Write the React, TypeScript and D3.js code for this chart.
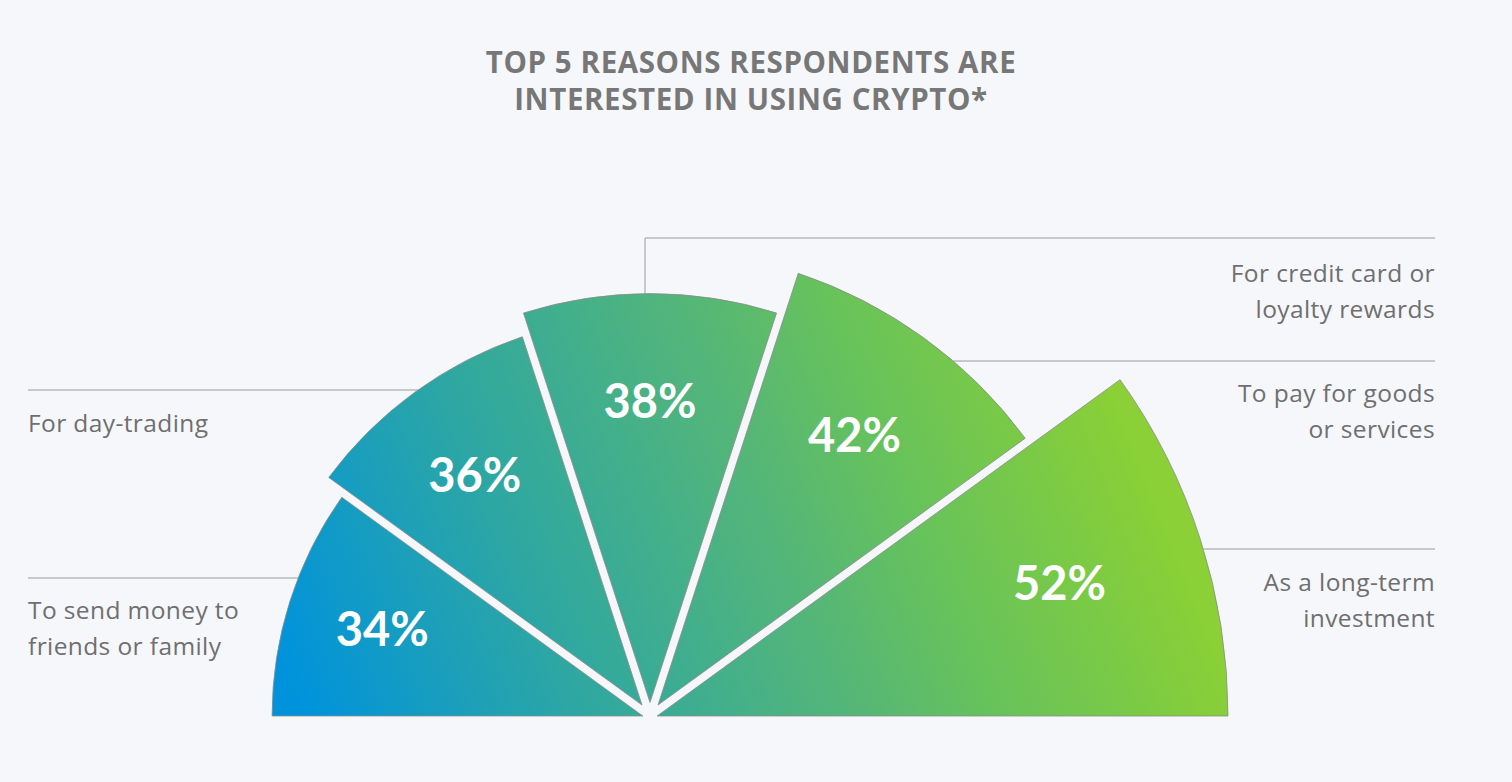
import React from "react";
import * as d3 from "d3";

const titleLines = ["TOP 5 REASONS RESPONDENTS ARE", "INTERESTED IN USING CRYPTO*"];
const categories = [
  "To send money to friends or family",
  "For day-trading",
  "For credit card or loyalty rewards",
  "To pay for goods or services",
  "As a long-term investment",
];
const values = [34, 36, 38, 42, 52];
const labelLines = [
  ["To send money to", "friends or family"],
  ["For day-trading"],
  ["For credit card or", "loyalty rewards"],
  ["To pay for goods", "or services"],
  ["As a long-term", "investment"],
];

const W = 1512;
const H = 782;
const BG = "#f6f7fb";
const cx = 650;
const cy = 716;
const HALF_GAP = 4.2;

function wedgePath(phi0: number, phi1: number, R: number, d0: number, d1: number) {
  const u0 = [Math.cos(phi0), Math.sin(phi0)];
  const u1 = [Math.cos(phi1), Math.sin(phi1)];
  const n0 = [-Math.sin(phi0), Math.cos(phi0)];
  const n1 = [Math.sin(phi1), -Math.cos(phi1)];
  const det = n0[0] * n1[1] - n0[1] * n1[0];
  const tx = (d0 * n1[1] - n0[1] * d1) / det;
  const ty = (n0[0] * d1 - d0 * n1[0]) / det;
  const t0 = Math.sqrt(R * R - d0 * d0);
  const t1 = Math.sqrt(R * R - d1 * d1);
  const p0 = [d0 * n0[0] + t0 * u0[0], d0 * n0[1] + t0 * u0[1]];
  const p1 = [d1 * n1[0] + t1 * u1[0], d1 * n1[1] + t1 * u1[1]];
  const a0 = Math.atan2(p0[1], p0[0]);
  const a1 = Math.atan2(p1[1], p1[0]);
  const p = d3.path();
  p.moveTo(tx, ty);
  p.lineTo(p0[0], p0[1]);
  p.arc(0, 0, R, a0, a1, false);
  p.closePath();
  return p.toString();
}

export default function App() {
  const r = d3.scaleLinear().domain([0, 52]).range([0, 578]);
  const n = values.length;
  // screen angle: -PI = left, -PI/2 = up, 0 = right
  const angle = d3.scaleLinear().domain([0, n]).range([-Math.PI, 0]);

  const wedges = values.map((v, i) => {
    const p0 = angle(i);
    const p1 = angle(i + 1);
    const rr = r(v);
    const d = wedgePath(p0, p1, rr, i === 0 ? 0 : HALF_GAP, i === n - 1 ? 0 : HALF_GAP);
    const mid = (p0 + p1) / 2;
    const lr = rr * 0.745;
    return { v, rr, d, lx: Math.cos(mid) * lr, ly: Math.sin(mid) * lr };
  });

  const arcX = (i: number, y: number, side: number) => {
    const rr = r(values[i]);
    const dy = cy - y;
    return cx + side * Math.sqrt(Math.max(0, rr * rr - dy * dy));
  };

  const leftLabelX = 28;
  const rightLabelX = 1435;
  const labelFont = "'Open Sans', Lato, sans-serif";
  const lineColor = "#9a9a9a";
  const textColor = "#6f6f6f";

  const leftLayouts = [
    { i: 0, lineY: 578, base: 619 },
    { i: 1, lineY: 390, base: 432 },
  ];
  const rightLayouts = [
    { i: 3, lineY: 361, base: 402 },
    { i: 4, lineY: 549, base: 591 },
  ];
  const lh = 35.5;

  return (
    <svg width={W} height={H} style={{ position: "absolute", left: 0, top: 0, display: "block" }}>
      <defs>
        <linearGradient id="grad" gradientUnits="userSpaceOnUse" x1={-360} y1={-37} x2={447} y2={-363}>
          <stop offset="0" stopColor="#0093dc" />
          <stop offset="0.31" stopColor="#30a8a0" />
          <stop offset="0.59" stopColor="#55b677" />
          <stop offset="0.73" stopColor="#66c25c" />
          <stop offset="1" stopColor="#8ad036" />
        </linearGradient>
      </defs>
      <rect x={0} y={0} width={W} height={H} fill={BG} />

      <g
        fontFamily="'Open Sans', Roboto, sans-serif"
        fontWeight={700}
        fill="#777777"
        fontSize={29.5}
        letterSpacing={0.6}
        textAnchor="middle"
      >
        {titleLines.map((t, k) => (
          <text key={k} x={751} y={73 + k * 37}>
            {t}
          </text>
        ))}
      </g>

      <g stroke={lineColor} strokeWidth={1} fill="none">
        {leftLayouts.map((l) => (
          <line key={l.i} x1={leftLabelX} x2={arcX(l.i, l.lineY, -1)} y1={l.lineY} y2={l.lineY} />
        ))}
        {rightLayouts.map((l) => (
          <line key={l.i} x1={arcX(l.i, l.lineY, 1)} x2={rightLabelX} y1={l.lineY} y2={l.lineY} />
        ))}
        <polyline points={`${645},${cy - r(values[2]) + 1} ${645},${238} ${rightLabelX},${238}`} />
      </g>

      <g transform={`translate(${cx},${cy})`}>
        {wedges.map((w, i) => (
          <path key={i} d={w.d} fill="url(#grad)" stroke="#8c8c8c" strokeWidth={0.8} />
        ))}
        {wedges.map((w, i) => (
          <text
            key={i}
            x={w.lx}
            y={w.ly}
            dy="0.36em"
            textAnchor="middle"
            fill="#ffffff"
            fontFamily="Lato, sans-serif"
            fontWeight={700}
            fontSize={47}
          >
            {w.v}%
          </text>
        ))}
      </g>

      <g fontFamily={labelFont} fontSize={24.5} letterSpacing={0.4} fill={textColor}>
        {leftLayouts.map((l) =>
          labelLines[l.i].map((t, k) => (
            <text key={`${l.i}-${k}`} x={leftLabelX} y={l.base + k * lh}>
              {t}
            </text>
          ))
        )}
        {rightLayouts.map((l) =>
          labelLines[l.i].map((t, k) => (
            <text key={`${l.i}-${k}`} x={rightLabelX} y={l.base + k * lh} textAnchor="end">
              {t}
            </text>
          ))
        )}
        {labelLines[2].map((t, k) => (
          <text key={`2-${k}`} x={rightLabelX} y={282 + k * lh} textAnchor="end">
            {t}
          </text>
        ))}
      </g>
    </svg>
  );
}
